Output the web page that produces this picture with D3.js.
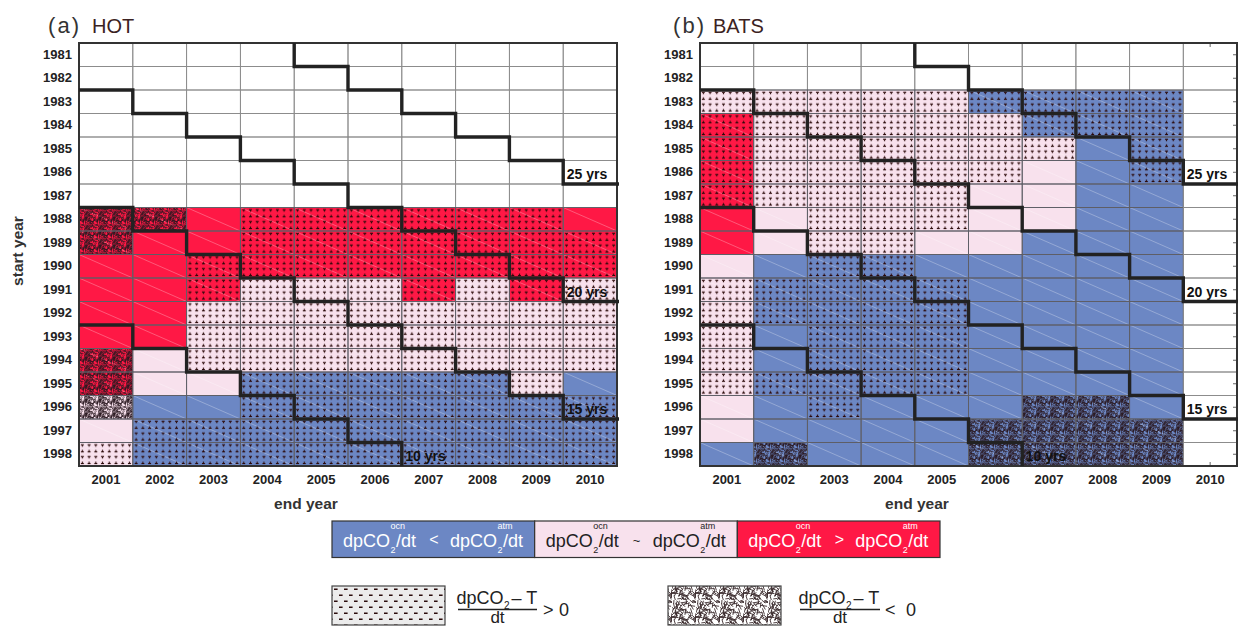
<!DOCTYPE html>
<html><head><meta charset="utf-8">
<script src="https://cdn.jsdelivr.net/npm/d3@7"></script>
<style>
body{margin:0;background:#fff;}
svg{display:block;font-family:"Liberation Sans",Arial,Helvetica,sans-serif;}
</style></head><body>
<svg id="chart" width="1238" height="627"></svg>
<script>
// Axes: start year of the trend window (rows) and end year (columns)
const startYears = d3.range(1981, 1999);
const endYears = d3.range(2001, 2011);
const durations = [10, 15, 20, 25];
const N = null;

// Rate comparison: -1 ocean pCO2 rises slower than atmosphere, 0 similar, 1 faster; null = no estimate
const hotClass = [
  [N,N,N,N,N,N,N,N,N,N], [N,N,N,N,N,N,N,N,N,N], [N,N,N,N,N,N,N,N,N,N],
  [N,N,N,N,N,N,N,N,N,N], [N,N,N,N,N,N,N,N,N,N], [N,N,N,N,N,N,N,N,N,N],
  [N,N,N,N,N,N,N,N,N,N],
  [1,1,1,1,1,1,1,1,1,1],
  [1,1,1,1,1,1,1,1,1,1],
  [1,1,1,1,1,1,1,1,1,1],
  [1,1,1,0,0,0,1,0,1,0],
  [1,1,0,0,0,0,0,0,0,0],
  [1,1,0,0,0,0,0,0,0,0],
  [1,0,0,0,0,0,0,0,0,0],
  [1,0,0,-1,-1,-1,-1,-1,0,-1],
  [0,-1,-1,-1,-1,-1,-1,-1,-1,-1],
  [0,-1,-1,-1,-1,-1,-1,-1,-1,-1],
  [0,-1,-1,-1,-1,-1,-1,-1,-1,-1]
];
// Sign of d(pCO2-T)/dt: 1 positive, -1 negative, 0 not significant
const hotTrend = [
  [0,0,0,0,0,0,0,0,0,0], [0,0,0,0,0,0,0,0,0,0], [0,0,0,0,0,0,0,0,0,0],
  [0,0,0,0,0,0,0,0,0,0], [0,0,0,0,0,0,0,0,0,0], [0,0,0,0,0,0,0,0,0,0],
  [0,0,0,0,0,0,0,0,0,0],
  [-1,-1,0,1,1,1,1,1,1,0],
  [-1,0,0,1,1,1,1,1,1,1],
  [0,0,1,1,1,1,1,1,1,1],
  [0,0,1,1,1,1,1,1,1,1],
  [0,0,1,1,1,1,1,1,1,1],
  [0,0,1,1,1,1,1,1,1,1],
  [-1,0,1,1,1,1,1,1,1,1],
  [-1,0,0,1,1,1,1,1,1,0],
  [-1,0,0,1,1,1,1,1,1,1],
  [0,1,1,1,1,1,1,1,1,1],
  [1,1,1,1,1,1,1,1,1,1]
];
const batsClass = [
  [N,N,N,N,N,N,N,N,N,N], [N,N,N,N,N,N,N,N,N,N],
  [0,0,0,0,0,-1,-1,-1,-1,N],
  [1,0,0,0,0,0,-1,-1,-1,N],
  [1,0,0,0,0,0,0,-1,-1,N],
  [1,0,0,0,0,0,0,-1,-1,N],
  [1,0,0,0,0,0,0,-1,-1,N],
  [1,0,0,0,0,0,0,-1,-1,N],
  [1,0,0,0,0,0,-1,-1,-1,N],
  [0,-1,-1,-1,-1,-1,-1,-1,-1,N],
  [0,-1,-1,-1,-1,-1,-1,-1,-1,N],
  [0,-1,-1,-1,-1,-1,-1,-1,-1,N],
  [0,-1,-1,-1,-1,-1,-1,-1,-1,N],
  [0,-1,-1,-1,-1,-1,-1,-1,-1,N],
  [0,-1,-1,-1,-1,-1,-1,-1,-1,N],
  [0,-1,-1,-1,-1,-1,-1,-1,-1,N],
  [0,-1,-1,-1,-1,-1,-1,-1,-1,N],
  [-1,-1,-1,-1,-1,-1,-1,-1,-1,N]
];
const batsTrend = [
  [0,0,0,0,0,0,0,0,0,0], [0,0,0,0,0,0,0,0,0,0],
  [1,1,1,1,1,1,1,1,1,0],
  [1,1,1,1,1,1,1,1,1,0],
  [1,1,1,1,1,1,1,0,1,0],
  [1,1,1,1,1,1,0,0,1,0],
  [1,1,1,1,1,0,0,0,0,0],
  [0,0,1,1,1,0,0,0,0,0],
  [0,0,1,1,0,0,0,0,0,0],
  [0,0,1,1,0,0,0,0,0,0],
  [1,1,1,1,1,0,0,0,0,0],
  [1,1,1,1,1,0,0,0,0,0],
  [1,0,1,1,1,0,0,0,0,0],
  [1,0,1,1,1,0,0,0,0,0],
  [1,1,1,1,1,0,0,0,0,0],
  [0,0,1,0,0,0,-1,-1,0,0],
  [0,0,0,0,0,-1,-1,-1,-1,0],
  [0,-1,0,0,0,-1,-1,-1,-1,0]
];

const legendClasses = [-1, 0, 1];
const legendOps = ["<", "~", ">"];

const classColor = {"-1": "#6c87c4", "0": "#f8e1ed", "1": "#ff1845"};
const ink = "#222";

const svg = d3.select("#chart");
const defs = svg.append("defs");

// Scribble texture: short strokes scattered by a fixed hash
const hash = v => { const s = Math.sin(v) * 43758.5453; return s - Math.floor(s); };
function scribblePattern(id, size, count, len, width, color, bg) {
  const p = defs.append("pattern").attr("id", id)
    .attr("patternUnits", "userSpaceOnUse").attr("width", size).attr("height", size);
  if (bg) p.append("rect").attr("width", size).attr("height", size).attr("fill", bg);
  for (let i = 1; i <= count; i++) {
    const cx = hash(i * 12.9898) * size;
    const cy = hash(i * 78.233 + 1.7) * size;
    const a = hash(i * 39.3468 + 4.1) * Math.PI;
    const l = len * (0.6 + 0.7 * hash(i * 5.171 + 9.3));
    const dx = Math.cos(a) * l / 2, dy = Math.sin(a) * l / 2;
    p.append("line")
      .attr("x1", cx - dx).attr("y1", cy - dy).attr("x2", cx + dx).attr("y2", cy + dy)
      .attr("stroke", color).attr("stroke-width", width).attr("stroke-linecap", "round");
  }
}
scribblePattern("scribble", 14, 85, 2.8, 0.8, "rgba(40,22,30,0.8)", null);
scribblePattern("scribble-key", 24, 75, 5, 0.9, "#3a2a2c", "#fff");

// Dash texture for the key
const dk = defs.append("pattern").attr("id", "dash-key")
  .attr("patternUnits", "userSpaceOnUse").attr("x", 332).attr("y", 586)
  .attr("width", 10).attr("height", 12);
dk.append("rect").attr("width", 10).attr("height", 12).attr("fill", "#ececec");
[[2, 2.5], [7, 8.5], [-3, 8.5]].forEach(([dx, dy]) =>
  dk.append("rect").attr("x", dx).attr("y", dy).attr("width", 3.6).attr("height", 1.5).attr("fill", "#2b0c0c"));

const gridTop = 43, gridBottom = 466;
const panels = [
  {key: "hot", letter: "(a)", name: "HOT", cls: hotClass, trend: hotTrend,
   x0: 79, x1: 617, letterX: 48, nameX: 92, endLabelX: 306, startLabel: true, edgeTicks: false},
  {key: "bats", letter: "(b)", name: "BATS", cls: batsClass, trend: batsTrend,
   x0: 700, x1: 1237, letterX: 673, nameX: 713, endLabelX: 917, startLabel: false, edgeTicks: true}
];

panels.forEach(P => {
  const x = d3.scaleBand().domain(endYears).range([P.x0, P.x1]).padding(0);
  const y = d3.scaleBand().domain(startYears).range([gridTop, gridBottom]).padding(0);
  const cw = x.bandwidth(), ch = y.bandwidth();
  const g = svg.append("g").attr("class", "panel-" + P.key);

  // per-panel mark texture aligned to cells: rows of small "T" and inverted "T"
  const tw = cw / 8, th = ch / 2;
  const dp = defs.append("pattern").attr("id", "dots-" + P.key)
    .attr("patternUnits", "userSpaceOnUse").attr("x", P.x0).attr("y", gridTop)
    .attr("width", tw).attr("height", th);
  const mk = "#2a0808";
  dp.append("rect").attr("x", tw/2 - 1.5).attr("y", 1.7).attr("width", 3.0).attr("height", 1.1).attr("fill", mk);
  dp.append("rect").attr("x", tw/2 - 0.6).attr("y", 2.8).attr("width", 1.2).attr("height", 1.4).attr("fill", mk);
  dp.append("rect").attr("x", tw/2 - 0.6).attr("y", th/2 + 1.5).attr("width", 1.2).attr("height", 1.4).attr("fill", mk);
  dp.append("rect").attr("x", tw/2 - 1.5).attr("y", th/2 + 2.9).attr("width", 3.0).attr("height", 1.1).attr("fill", mk);

  const cells = [];
  startYears.forEach((s, i) => endYears.forEach((e, j) => {
    cells.push({s, e, c: P.cls[i][j], t: P.trend[i][j]});
  }));

  g.append("g").selectAll("rect").data(cells).join("rect")
    .attr("x", d => x(d.e)).attr("y", d => y(d.s))
    .attr("width", cw).attr("height", ch)
    .attr("fill", d => d.c === null ? "#fff" : classColor[d.c]);

  const filled = cells.filter(d => d.c !== null);
  g.append("g").selectAll("line").data(filled).join("line")
    .attr("x1", d => x(d.e)).attr("y1", d => y(d.s))
    .attr("x2", d => x(d.e) + cw).attr("y2", d => y(d.s) + ch)
    .attr("stroke", "#fff").attr("stroke-opacity", 0.4).attr("stroke-width", 0.7);

  g.append("g").selectAll("rect").data(cells.filter(d => d.t !== 0)).join("rect")
    .attr("x", d => x(d.e)).attr("y", d => y(d.s))
    .attr("width", cw).attr("height", ch)
    .attr("fill", d => d.t > 0 ? `url(#dots-${P.key})` : "url(#scribble)");

  // cell grid
  g.append("g").selectAll("rect").data(cells).join("rect")
    .attr("x", d => x(d.e)).attr("y", d => y(d.s))
    .attr("width", cw).attr("height", ch)
    .attr("fill", "none")
    .attr("stroke", d => d.c === null ? "#8c8c8c" : "#5e5e66")
    .attr("stroke-width", 0.9);

  // edge ticks on the empty last column
  if (P.edgeTicks) {
    const ra = g.append("g").attr("transform", `translate(${P.x1},0)`)
      .call(d3.axisRight(y).tickSize(-4).tickFormat(""));
    ra.select(".domain").remove();
    ra.selectAll("line").attr("stroke", "#666");
    const last = endYears[endYears.length - 1];
    [gridTop, gridBottom].forEach((yy, k) => {
      g.append("line").attr("x1", x(last) + cw/2).attr("x2", x(last) + cw/2)
        .attr("y1", yy).attr("y2", k === 0 ? yy + 4 : yy - 4).attr("stroke", "#666");
    });
  }

  // frame
  g.append("rect").attr("x", P.x0).attr("y", gridTop)
    .attr("width", P.x1 - P.x0).attr("height", gridBottom - gridTop)
    .attr("fill", "none").attr("stroke", "#333").attr("stroke-width", 2);

  // constant-length staircases
  const nR = startYears.length, nC = endYears.length;
  const yB = i => i >= nR ? gridBottom : y(startYears[i]);
  const xB = j => j >= nC ? P.x1 : x(endYears[j]);
  durations.forEach(L => {
    const idx = endYears.map(e => Math.max(0, Math.min(nR, e - L - startYears[0] + 2)));
    const runs = [];
    let cur = null;
    for (let c = 0; c < nC; c++) {
      const k = idx[c];
      if (k > 0 && k < nR) {
        if (!cur) cur = [[xB(c), yB(c > 0 ? idx[c - 1] : k)]];
        cur.push([xB(c), yB(k)], [xB(c + 1), yB(k)]);
      } else if (cur) {
        cur.push([xB(c), yB(k)]);
        runs.push(cur); cur = null;
      }
    }
    if (cur) { cur[cur.length - 1][0] += 2; runs.push(cur); }
    runs.forEach(r => g.append("path").attr("d", d3.line()(r))
      .attr("fill", "none").attr("stroke", "#222").attr("stroke-width", 3.4)
      .attr("stroke-linejoin", "miter").attr("stroke-linecap", "butt"));

    const eL = Math.min(endYears[nC - 1], startYears[nR - 1] + L - 1);
    const sL = eL - L + 1;
    g.append("text").attr("x", x(eL) + 3.5).attr("y", y(sL) + ch - 5)
      .attr("font-size", 14).attr("font-weight", "bold").attr("fill", "#111")
      .text(L + " yrs");
  });

  // axes
  const ax = g.append("g").attr("transform", `translate(${P.x0},0)`)
    .call(d3.axisLeft(y).tickSize(0).tickPadding(7));
  const bx = g.append("g").attr("transform", `translate(0,${gridBottom})`)
    .call(d3.axisBottom(x).tickSize(0).tickPadding(9));
  [ax, bx].forEach(a => {
    a.attr("font-family", null);
    a.select(".domain").remove();
    a.selectAll("text").attr("font-size", 13)
      .attr("font-weight", "bold").attr("fill", ink);
  });

  g.append("text").attr("x", P.endLabelX).attr("y", 509).attr("text-anchor", "middle")
    .attr("font-size", 15.5).attr("font-weight", "bold").attr("fill", "#333").text("end year");
  if (P.startLabel) {
    g.append("text").attr("transform", "translate(23,251) rotate(-90)").attr("text-anchor", "middle")
      .attr("font-size", 15.5).attr("font-weight", "bold").attr("fill", "#333").text("start year");
  }

  // panel title
  g.append("text").attr("x", P.letterX).attr("y", 32.5).attr("font-size", 22)
    .attr("fill", "#333").attr("textLength", 31).attr("lengthAdjust", "spacing").text(P.letter);
  g.append("text").attr("x", P.nameX).attr("y", 32.5).attr("font-size", 20)
    .attr("fill", "#3b2222").text(P.name);
});

// ---- colour key ----
const keyG = svg.append("g");
const kx = d3.scaleBand().domain(legendClasses).range([332, 940]);
const kTop = 521, kBot = 557.5;

// "dpCO2/dt" with stacked sub- and superscript, as one text element
function rateExpr(g, x0, base, sup, color) {
  const t = g.append("text").attr("fill", color).attr("font-size", 18);
  const head = t.append("tspan").attr("x", x0).attr("y", base).text("dpCO");
  const w = head.node().getComputedTextLength();
  t.append("tspan").attr("x", x0 + w + 0.5).attr("y", base + 6).attr("font-size", 9).text("2");
  t.append("tspan").attr("x", x0 + w + 0.5).attr("y", base - 18).attr("font-size", 9).text(sup);
  t.append("tspan").attr("x", x0 + w + 6).attr("y", base).attr("font-size", 18).text("/dt");
}

legendClasses.forEach((c, i) => {
  const left = kx(c);
  keyG.append("rect").attr("x", left).attr("y", kTop).attr("width", kx.bandwidth()).attr("height", kBot - kTop)
    .attr("fill", classColor[c]).attr("stroke", "#333").attr("stroke-width", 1.2);
  const col = c === 0 ? "#222" : "#fff";
  rateExpr(keyG, left + 11, 547, "ocn", col);
  keyG.append("text").attr("x", left + 102).attr("y", 545).attr("text-anchor", "middle")
    .attr("font-size", c === 0 ? 13 : 16).attr("fill", col).text(legendOps[i]);
  rateExpr(keyG, left + 118, 547, "atm", col);
});

// ---- texture key ----
function fracKey(x0, fill, barX0, barX1, op, opX, zeroX) {
  keyG.append("rect").attr("x", x0).attr("y", 586).attr("width", 113).attr("height", 39)
    .attr("fill", fill).attr("stroke", "#444").attr("stroke-width", 1.2);
  const nx = barX0 - 1.5;
  const t = keyG.append("text").attr("font-size", 18).attr("fill", ink);
  const head = t.append("tspan").attr("x", nx).attr("y", 603.5).text("dpCO");
  const w = head.node().getComputedTextLength();
  t.append("tspan").attr("x", nx + w + 0.5).attr("y", 609).attr("font-size", 10).text("2");
  t.append("tspan").attr("x", nx + w + 8).attr("y", 603.5).attr("font-size", 18).text("\u2013 T");
  keyG.append("line").attr("x1", barX0).attr("x2", barX1).attr("y1", 609.5).attr("y2", 609.5)
    .attr("stroke", ink).attr("stroke-width", 1.4);
  keyG.append("text").attr("x", (barX0 + barX1) / 2).attr("y", 622.5).attr("text-anchor", "middle")
    .attr("font-size", 17).attr("fill", ink).text("dt");
  keyG.append("text").attr("x", opX).attr("y", 616).attr("font-size", 18).attr("fill", ink).text(op);
  keyG.append("text").attr("x", zeroX).attr("y", 616).attr("font-size", 18).attr("fill", ink).text("0");
}
fracKey(332, "url(#dash-key)", 458, 537, ">", 543, 559);
fracKey(668, "url(#scribble-key)", 800, 880, "<", 885, 906);
</script>
</body></html>
